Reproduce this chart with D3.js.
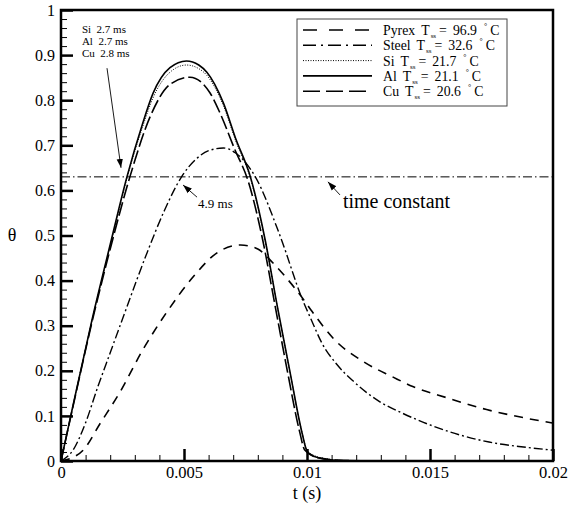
<!DOCTYPE html>
<html>
<head>
<meta charset="utf-8">
<script src="https://cdn.jsdelivr.net/npm/d3@7"></script>
<style>
body { margin: 0; background: #fff; }
svg text { font-family: "Liberation Serif", "Times New Roman", serif !important; fill: #000; }
</style>
</head>
<body>
<div id="chart"></div>
<script>
// t (s), theta
const pyrex = [[0,0],[0.0004,0.006],[0.0009,0.024],[0.0016,0.084],[0.0024,0.153],[0.0033,0.244],[0.0043,0.33],[0.0054,0.41],[0.0063,0.46],[0.0073,0.479],[0.008,0.47],[0.0086,0.44],[0.0091,0.41],[0.0099,0.355],[0.0102,0.332],[0.0111,0.27],[0.0123,0.22],[0.0135,0.186],[0.0143,0.165],[0.0157,0.14],[0.0173,0.114],[0.0189,0.095],[0.02,0.084]];
const steel = [[0,0],[0.0005,0.025],[0.001,0.085],[0.0015,0.165],[0.002,0.24],[0.0026,0.33],[0.0035,0.462],[0.0042,0.555],[0.0049,0.63],[0.0055,0.67],[0.006,0.688],[0.0066,0.694],[0.0071,0.683],[0.0079,0.63],[0.0089,0.5],[0.0098,0.36],[0.0102,0.31],[0.0106,0.262],[0.0112,0.215],[0.0119,0.176],[0.013,0.13],[0.0138,0.108],[0.015,0.08],[0.0162,0.058],[0.0174,0.042],[0.0188,0.031],[0.02,0.024]];
const si = [[0,0],[0.0005,0.125],[0.00126,0.311],[0.002,0.476],[0.0027,0.63],[0.0033,0.738],[0.00374,0.805],[0.00443,0.862],[0.0051,0.878],[0.0056,0.87],[0.00593,0.855],[0.0066,0.788],[0.0071,0.71],[0.00768,0.63],[0.0083,0.488],[0.0088,0.34],[0.0093,0.2],[0.0098,0.063],[0.01,0.024],[0.0103,0.012],[0.0108,0.005],[0.0115,0.001],[0.013,0],[0.02,0]];
const al = [[0,0],[0.0005,0.126],[0.00126,0.313],[0.002,0.48],[0.00268,0.63],[0.0033,0.745],[0.00374,0.815],[0.00443,0.872],[0.0051,0.887],[0.0056,0.878],[0.00593,0.862],[0.0066,0.794],[0.0071,0.715],[0.0077,0.63],[0.0083,0.49],[0.0088,0.341],[0.0093,0.2],[0.0098,0.062],[0.01,0.022],[0.0103,0.01],[0.0108,0.004],[0.0115,0.001],[0.013,0],[0.02,0]];
const cu = [[0,0],[0.0005,0.124],[0.00126,0.308],[0.002,0.47],[0.0028,0.63],[0.00362,0.763],[0.00443,0.835],[0.00524,0.851],[0.00606,0.816],[0.00646,0.772],[0.00707,0.69],[0.0076,0.622],[0.0082,0.49],[0.0087,0.345],[0.0092,0.2],[0.0097,0.065],[0.0099,0.025],[0.0103,0.01],[0.0108,0.004],[0.0115,0.001],[0.013,0],[0.02,0]];

const materials = ["Pyrex", "Steel", "Si", "Al", "Cu"];
const tssValues = ["96.9", "32.6", "21.7", "21.1", "20.6"];
const seriesData = [pyrex, steel, si, al, cu];

const xTicks = [0, 0.005, 0.01, 0.015, 0.02];
const xTickLabels = ["0", "0.005", "0.01", "0.015", "0.02"];
const yTicks = [0, 0.1, 0.2, 0.3, 0.4, 0.5, 0.6, 0.7, 0.8, 0.9, 1];
const yTickLabels = ["0", "0.1", "0.2", "0.3", "0.4", "0.5", "0.6", "0.7", "0.8", "0.9", "1"];
const timeConstant = 0.63;

// annotation texts and anchor points in data units
const noteLines = ["Si  2.7 ms", "Al  2.7 ms", "Cu  2.8 ms"];
const noteY = [0.949, 0.922, 0.895];

let w = 568, h = 506;
let padL = 61, padR = 553, padT = 10, padB = 461;

let svg = d3.select("#chart").append("svg")
    .attr("width", w).attr("height", h);

let x = d3.scaleLinear().domain([0, 0.02]).range([padL, padR]);
let y = d3.scaleLinear().domain([0, 1]).range([padB, padT]);

let styles = [
    {dash: "9,7", legend: "14,12", width: 1.6},
    {dash: "9,3,2,3", legend: "13,5,2,5", width: 1.4},
    {dash: "1,1.5", legend: "1,1.5", width: 1},
    {dash: null, legend: null, width: 1.6},
    {dash: "14,4", legend: "17,6", width: 1.6}
];

let defs = svg.append("defs");
defs.append("clipPath").attr("id", "plot")
    .append("rect").attr("x", padL).attr("y", padT)
    .attr("width", padR - padL).attr("height", padB - padT);

defs.append("marker")
    .attr("id", "arrow").attr("viewBox", "0 0 10 10")
    .attr("refX", 10).attr("refY", 5)
    .attr("markerWidth", 9).attr("markerHeight", 9)
    .attr("markerUnits", "userSpaceOnUse")
    .attr("orient", "auto")
    .append("path").attr("d", "M0,1.5 L10,5 L0,8.5 Z").attr("fill", "#000");

let line = d3.line()
    .x(d => x(d[0]))
    .y(d => y(d[1]))
    .curve(d3.curveMonotoneX);

let curves = svg.append("g").attr("clip-path", "url(#plot)");

// time constant line
curves.append("line")
    .attr("x1", x(0)).attr("x2", x(0.02))
    .attr("y1", y(timeConstant)).attr("y2", y(timeConstant))
    .attr("stroke", "#000").attr("stroke-width", 1)
    .attr("stroke-dasharray", "9,3,1.5,3");

seriesData.forEach((d, i) => {
    curves.append("path")
        .datum(d)
        .attr("d", line)
        .attr("fill", "none")
        .attr("stroke", "#000")
        .attr("stroke-width", styles[i].width)
        .attr("stroke-dasharray", styles[i].dash);
});

// axes
let yMinor = d3.range(0, 1.0001, 0.02);
let xMinor = d3.range(0, 0.02001, 0.001);

svg.append("g").attr("transform", "translate(" + padL + ",0)")
    .call(d3.axisLeft(y).tickValues(yMinor).tickSize(-6).tickFormat(""))
    .call(g => g.select(".domain").remove())
    .selectAll("line").attr("stroke-width", 1);

svg.append("g").attr("transform", "translate(0," + padB + ")")
    .call(d3.axisBottom(x).tickValues(xMinor).tickSize(-6).tickFormat(""))
    .call(g => g.select(".domain").remove())
    .selectAll("line").attr("stroke-width", 1);

let yAxis = svg.append("g").attr("transform", "translate(" + padL + ",0)")
    .call(d3.axisLeft(y).tickValues(yTicks).tickSize(-12).tickPadding(6)
        .tickFormat((d, i) => yTickLabels[i]));
yAxis.select(".domain").remove();
yAxis.selectAll("line").attr("stroke-width", 2.5);
yAxis.selectAll("text").style("font-size", "16px");

let xAxis = svg.append("g").attr("transform", "translate(0," + padB + ")")
    .call(d3.axisBottom(x).tickValues(xTicks).tickSize(-12).tickPadding(5)
        .tickFormat((d, i) => xTickLabels[i]));
xAxis.select(".domain").remove();
xAxis.selectAll("line").attr("stroke-width", 2.5);
xAxis.selectAll("text").style("font-size", "16.5px");

// frame
svg.append("rect")
    .attr("x", padL).attr("y", padT)
    .attr("width", padR - padL).attr("height", padB - padT)
    .attr("fill", "none").attr("stroke", "#000").attr("stroke-width", 2.5);

// axis titles
svg.append("text").attr("x", 12).attr("y", 241)
    .attr("text-anchor", "middle").style("font-size", "18px").text("θ");
svg.append("text").attr("x", 307).attr("y", 499)
    .attr("text-anchor", "middle").style("font-size", "18px").text("t (s)");

// legend
let legend = svg.append("g");
legend.append("rect")
    .attr("x", 297).attr("y", 19).attr("width", 210).attr("height", 87)
    .attr("fill", "#fff").attr("stroke", "#444").attr("stroke-width", 1);

// places a piece of text after the previous one and returns its right edge
function piece(px, py, str, size) {
    let t = legend.append("text").attr("x", px).attr("y", py)
        .style("font-size", size + "px").text(str);
    return px + t.node().getComputedTextLength();
}

materials.forEach((m, i) => {
    let cy = 30 + i * 15.3;
    legend.append("line")
        .attr("x1", 303).attr("x2", 372).attr("y1", cy).attr("y2", cy)
        .attr("stroke", "#000")
        .attr("stroke-width", styles[i].width)
        .attr("stroke-dasharray", styles[i].legend);
    let base = cy + 5;
    let px = piece(383, base, m, 13.8);
    px = piece(px + 6, base, "T", 13.8);
    px = piece(px + 1, base + 3, "ss", 7);
    px = piece(px + 3, base, "=", 13.8);
    px = piece(px + 6, base, tssValues[i], 13.8);
    px = piece(px + 7, base - 6, "°", 8);
    piece(px + 3, base, "C", 13.8);
});

// annotations
noteLines.forEach((s, i) => {
    svg.append("text")
        .attr("x", x(0.00085)).attr("y", y(noteY[i]))
        .style("font-size", "11px").style("white-space", "pre")
        .text(s);
});

let arrows = [
    [[0.00187, 0.871], [0.00244, 0.65]],
    [[0.00553, 0.585], [0.00496, 0.612]],
    [[0.01134, 0.59], [0.01085, 0.619]]
];
arrows.forEach(a => {
    svg.append("line")
        .attr("x1", x(a[0][0])).attr("y1", y(a[0][1]))
        .attr("x2", x(a[1][0])).attr("y2", y(a[1][1]))
        .attr("stroke", "#000").attr("stroke-width", 0.9)
        .attr("marker-end", "url(#arrow)");
});

svg.append("text").attr("x", x(0.00557)).attr("y", y(0.561))
    .style("font-size", "13px").text("4.9 ms");
svg.append("text").attr("x", x(0.01146)).attr("y", y(0.561))
    .style("font-size", "20px").text("time constant");
</script>
</body>
</html>
